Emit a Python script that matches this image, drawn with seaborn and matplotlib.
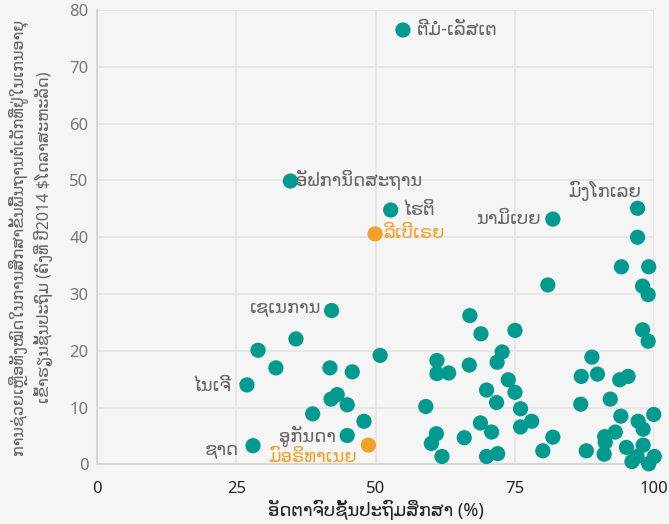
import pandas as pd
import seaborn as sns
import matplotlib.pyplot as plt
import numpy as np

# completion rate (%) and aid per child (constant 2014 US$)
completion = [54.9, 34.7, 52.7, 49.9, 81.8, 97.0, 42.1, 26.9, 28.0, 44.9, 48.7,
              35.7, 28.9, 32.1, 41.8, 45.8, 50.8, 43.1, 42.0, 44.9, 38.7, 47.9,
              66.9, 68.9, 61.0, 61.0, 63.1, 66.8, 59.0, 68.8, 60.9, 60.0, 65.9, 61.9,
              75.0, 72.7, 71.8, 73.8, 69.9, 75.0, 71.7, 76.0, 78.0, 76.0, 70.8, 69.9,
              71.9, 81.8, 80.0, 80.9,
              94.1, 99.0, 97.0, 97.9, 98.9, 97.9, 98.9, 88.8, 86.9, 89.8, 93.8, 95.3,
              86.8, 92.1, 94.0, 97.1, 98.0, 99.9, 93.0, 91.1, 91.2, 87.8, 91.0, 95.0,
              98.0, 96.0, 96.9, 99.0, 100.0]
aid = [76.5, 49.9, 44.8, 40.6, 43.2, 45.1, 27.1, 14.0, 3.3, 5.1, 3.4,
       22.1, 20.1, 17.0, 17.0, 16.3, 19.2, 12.3, 11.5, 10.5, 8.9, 7.6,
       26.2, 23.0, 18.3, 16.0, 16.1, 17.5, 10.2, 7.3, 5.4, 3.7, 4.7, 1.4,
       23.6, 19.8, 18.0, 14.9, 13.1, 12.7, 10.9, 9.8, 7.6, 6.6, 5.7, 1.4,
       1.9, 4.8, 2.4, 31.6,
       34.8, 34.8, 40.0, 31.4, 29.9, 23.7, 21.7, 18.9, 15.5, 15.9, 14.9, 15.5,
       10.6, 11.5, 8.5, 7.6, 6.2, 8.8, 5.7, 4.9, 3.9, 2.4, 1.8, 3.0,
       3.4, 0.5, 1.4, 0.1, 1.4]
group = ['other'] * len(aid)
group[3] = 'hl'   # Liberia
group[10] = 'hl'  # Mauritania

# labelled countries: index, text, ha, dx(px), dy(px)
labels = [
    (0, 'ຕີມໍ-ເລັສເຕ', 'left', 14, 0),
    (1, 'ອັຟການິດສະຖານ', 'left', 6, 1),
    (2, 'ໄຮຕິ', 'left', 12, 0),
    (3, 'ລີເບີເຣຍ', 'left', 8, 1),
    (4, 'ນາມິເບຍ', 'right', -12, 0),
    (5, 'ມົງໂກເລຍ', 'right', 4, 17),
    (6, 'ເຊເນການ', 'right', -10, 3),
    (7, 'ໄນເຈີ', 'right', -16, -1),
    (8, 'ຊາດ', 'right', -14, -4),
    (9, 'ອູກັນດາ', 'right', -11, -1),
    (10, 'ມົອຣິທາເນຍ', 'right', -11, -12),
]

teal = '#009a8e'
orange = '#f4a12a'
bg = '#f5f5f5'

df = pd.DataFrame({'x': completion, 'y': aid, 'g': group})

sns.set_style('whitegrid')
plt.rcParams['font.family'] = ['Noto Sans', 'DejaVu Sans']

fig = plt.figure(figsize=(6.69, 5.24), dpi=100, facecolor=bg)
ax = fig.add_axes([0.145, 0.1137, 0.833, 0.867])
ax.set_facecolor(bg)

sns.scatterplot(data=df, x='x', y='y', hue='g', palette={'other': teal, 'hl': orange},
                s=120, linewidth=0, alpha=1, legend=False, ax=ax, clip_on=False, zorder=3)

ax.set_xlim(0, 100)
ax.set_ylim(0, 80)
ax.set_xticks([0, 25, 50, 75, 100])
ax.set_yticks(range(0, 81, 10))
ax.grid(True, color='#e4e4e4', linewidth=1.2)
for s in ['top', 'right']:
    ax.spines[s].set_visible(False)
for s in ['left', 'bottom']:
    ax.spines[s].set_color('#d6d6d6')
    ax.spines[s].set_linewidth(1.5)
ax.tick_params(axis='x', colors='#222222', labelsize=12, length=0, pad=12)
ax.tick_params(axis='y', colors='#777777', labelsize=12, length=0, pad=6)

ax.set_xlabel('ອັດຕາຈົບຊັ້ນປະຖົມສຶກສາ (%)', fontsize=13, color='#222222', labelpad=2)
ax.set_ylabel('ການຊ່ວຍເຫຼືອທັງໝົດໃນການສຶກສາຂັ້ນພື້ນຖານຕໍ່ເດັກທີ່ຢູ່ໃນເກນອາຍຸ\n'
              'ເຂົ້າຮຽນຊັ້ນປະຖົມ (ຄົງທີ່ ປີ2014 $ໂດລາສະຫະລັດ)',
              fontsize=11.5, color='#666666', labelpad=12, linespacing=1.4)

for i, txt, ha, dx, dy in labels:
    c = orange if group[i] == 'hl' else '#666666'
    ax.annotate(txt, (completion[i], aid[i]), xytext=(dx, dy), textcoords='offset pixels',
                ha=ha, va='center', fontsize=13, color=c, zorder=4)

fig.savefig('out.png', dpi=100, facecolor=bg)
